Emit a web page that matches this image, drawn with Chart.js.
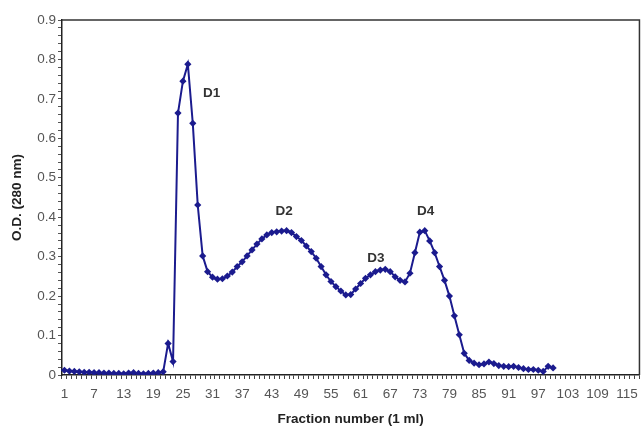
<!DOCTYPE html>
<html>
<head>
<meta charset="utf-8">
<script src="https://cdn.jsdelivr.net/npm/chart.js@4.4.0/dist/chart.umd.min.js"></script>
<style>
  html, body { margin: 0; padding: 0; background: #ffffff; }
  #wrap { width: 644px; height: 432px; position: relative; }
</style>
</head>
<body>
<div id="wrap"><canvas id="c" width="644" height="432"></canvas></div>
<script>
// Fraction numbers shown on the category axis (1..117)
const fractionLabels = Array.from({length: 117}, (_, i) => String(i + 1));
// Optical density at 280 nm, fractions 1..100
const odValues = [
  0.012, 0.010, 0.009, 0.008, 0.007, 0.007, 0.006, 0.006, 0.005, 0.005,
  0.004, 0.004, 0.003, 0.005, 0.006, 0.004, 0.003, 0.004, 0.005, 0.006,
  0.008, 0.080, 0.034, 0.664, 0.745, 0.788, 0.638, 0.431, 0.302, 0.262,
  0.248, 0.243, 0.244, 0.251, 0.261, 0.275, 0.287, 0.302, 0.317, 0.332,
  0.345, 0.355, 0.361, 0.363, 0.365, 0.366, 0.361, 0.351, 0.341, 0.327,
  0.313, 0.296, 0.275, 0.254, 0.237, 0.224, 0.213, 0.203, 0.204, 0.218,
  0.232, 0.245, 0.254, 0.262, 0.266, 0.268, 0.262, 0.249, 0.240, 0.236,
  0.258, 0.310, 0.362, 0.366, 0.340, 0.310, 0.275, 0.240, 0.200, 0.150,
  0.102, 0.055, 0.037, 0.030, 0.026, 0.028, 0.033, 0.029, 0.024, 0.022,
  0.021, 0.022, 0.019, 0.016, 0.014, 0.014, 0.012, 0.009, 0.022, 0.018
];
// Peak annotations: label, fraction number, O.D. level of the text centre
const peakNames = ['D1', 'D2', 'D3', 'D4'];
const peakFractions = [30.8, 45.5, 64.1, 74.2];
const peakLevels = [0.715, 0.416, 0.297, 0.416];

const lineColor = '#1b1b8e';

const boxPlugin = {
  id: 'box',
  afterDraw(chart) {
    const {ctx, chartArea: a} = chart;
    ctx.save();
    ctx.strokeStyle = '#333333';
    ctx.lineWidth = 1.5;
    ctx.beginPath();
    ctx.moveTo(a.left, a.top);
    ctx.lineTo(a.right, a.top);
    ctx.lineTo(a.right, a.bottom);
    ctx.stroke();
    ctx.restore();
  }
};

const peakPlugin = {
  id: 'peaks',
  afterDatasetsDraw(chart) {
    const {ctx, scales} = chart;
    ctx.save();
    ctx.font = 'bold 13.5px "Liberation Sans", Arial, sans-serif';
    ctx.fillStyle = '#333333';
    ctx.textAlign = 'center';
    ctx.textBaseline = 'middle';
    peakNames.forEach((n, i) => {
      const x = scales.x.getPixelForValue(peakFractions[i] - 1);
      const y = scales.y.getPixelForValue(peakLevels[i]);
      ctx.fillText(n, x, y);
    });
    ctx.restore();
  }
};

new Chart(document.getElementById('c'), {
  type: 'line',
  data: {
    labels: fractionLabels,
    datasets: [{
      data: odValues,
      borderColor: lineColor,
      backgroundColor: lineColor,
      borderWidth: 2,
      pointStyle: 'rectRot',
      pointRadius: 3.6,
      pointBorderWidth: 0,
      pointBackgroundColor: lineColor,
      tension: 0,
      fill: false
    }]
  },
  options: {
    responsive: false,
    animation: false,
    layout: { padding: { left: 9, right: 3, top: 20, bottom: 0 } },
    plugins: { legend: { display: false }, tooltip: { enabled: false } },
    scales: {
      x: {
        type: 'category',
        offset: true,
        afterFit(s) { s.height = 57; },
        grid: { offset: true, drawOnChartArea: false, tickLength: 4, color: '#444', tickColor: '#444' },
        border: { color: '#222', width: 1.5 },
        ticks: {
          autoSkip: false,
          maxRotation: 0,
          minRotation: 0,
          padding: 7,
          color: '#555',
          font: { family: '"Liberation Sans", Arial, sans-serif', size: 13.5 },
          callback(v, i) { return (i % 6 === 0) ? fractionLabels[i] : ''; }
        },
        title: {
          display: true,
          text: 'Fraction number (1 ml)',
          color: '#222',
          padding: { top: 2, bottom: 5 },
          font: { family: '"Liberation Sans", Arial, sans-serif', size: 13.5, weight: 'bold' }
        }
      },
      y: {
        min: 0,
        max: 0.9,
        afterFit(s) { s.width = 53; },
        grid: { drawOnChartArea: false, tickLength: 4, color: '#555', tickColor: '#555' },
        border: { color: '#222', width: 1.5 },
        ticks: {
          stepSize: 0.02,
          autoSkip: false,
          padding: 2,
          color: '#555',
          font: { family: '"Liberation Sans", Arial, sans-serif', size: 13.5 },
          callback(v) {
            const r = Math.round(v * 100);
            if (r % 10 !== 0) return '';
            return r === 0 ? '0' : (r / 100).toFixed(1);
          }
        },
        title: {
          display: true,
          text: 'O.D. (280 nm)',
          color: '#222',
          padding: { top: 0, bottom: 4 },
          font: { family: '"Liberation Sans", Arial, sans-serif', size: 13.5, weight: 'bold' }
        }
      }
    }
  },
  plugins: [boxPlugin, peakPlugin]
});
</script>
</body>
</html>
